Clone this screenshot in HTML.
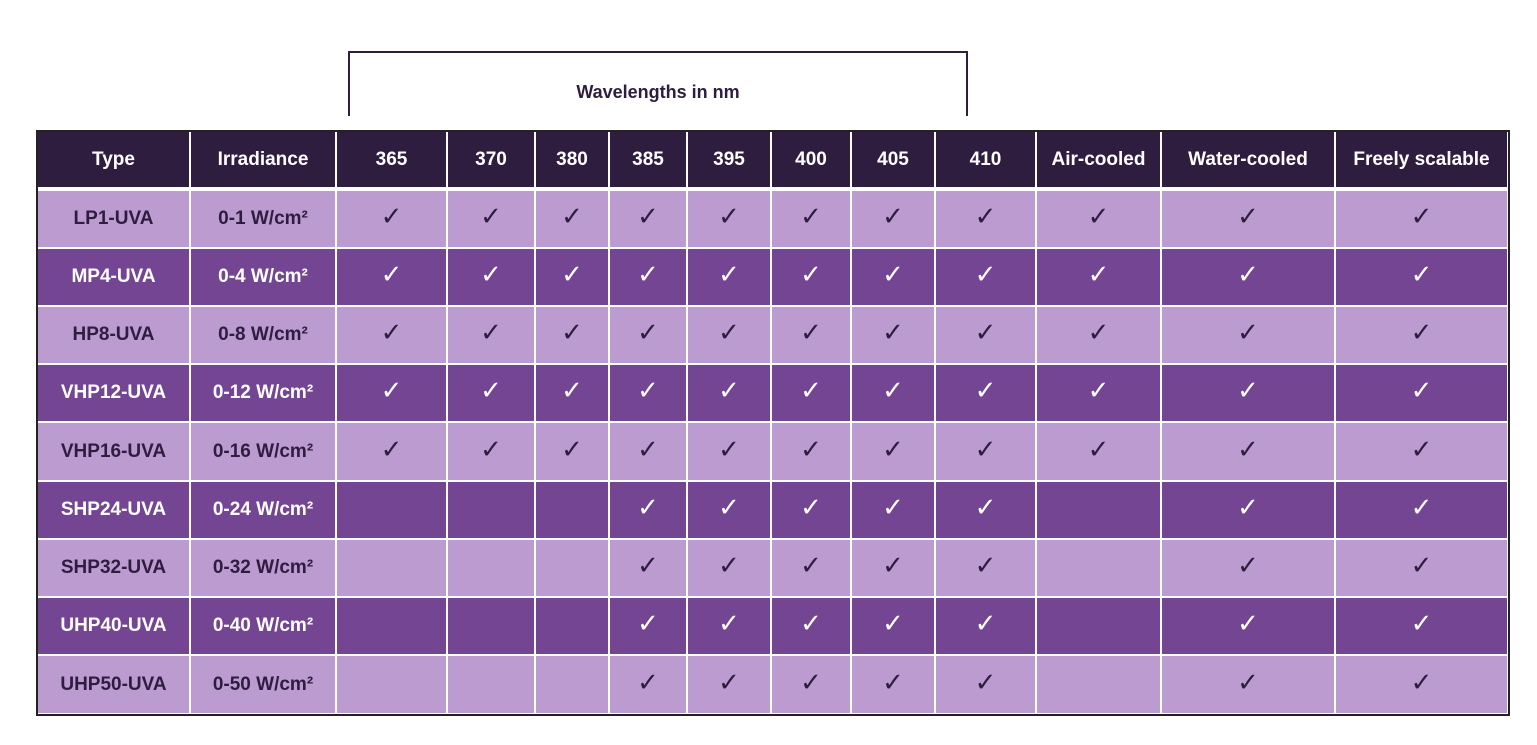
<!DOCTYPE html>
<html><head><meta charset="utf-8"><style>
body{margin:0;width:1537px;height:745px;background:#fff;position:relative;overflow:hidden;font-family:"Liberation Sans","DejaVu Sans",sans-serif;}
.c{position:absolute;display:flex;align-items:center;justify-content:center;font-weight:bold;font-size:19px;box-sizing:border-box;}
.ck{font-family:"DejaVu Sans",sans-serif;font-weight:normal;font-size:26px;}
</style></head><body>
<div style="position:absolute;left:348px;top:51px;width:620px;height:65px;border:2px solid #2f1d40;border-bottom:none;box-sizing:border-box"></div>
<div style="position:absolute;left:348px;top:82px;width:620px;text-align:center;font-weight:bold;font-size:18px;color:#2f1d40">Wavelengths in nm</div>
<div id="tbl" style="position:absolute;left:36px;top:130px;width:1474px;height:586px;background:#fff;border:2px solid #222;box-sizing:border-box"></div>
<script>
const headers=["Type","Irradiance","365","370","380","385","395","400","405","410","Air-cooled","Water-cooled","Freely scalable"];
const types=["LP1-UVA","MP4-UVA","HP8-UVA","VHP12-UVA","VHP16-UVA","SHP24-UVA","SHP32-UVA","UHP40-UVA","UHP50-UVA"];
const irr=["0-1 W/cm²","0-4 W/cm²","0-8 W/cm²","0-12 W/cm²","0-16 W/cm²","0-24 W/cm²","0-32 W/cm²","0-40 W/cm²","0-50 W/cm²"];
const full=[1,1,1,1,1,1,1,1,1,1,1];
const part=[0,0,0,1,1,1,1,1,0,1,1];
const checks=[full,full,full,full,full,part,part,part,part];
const colX=[38,190,336,447,535,609,687,771,851,935,1036,1161,1335,1508];
const rowY=[132,190,248,306,364,422,481,539,597,655,714];
const t=document.body;
function cell(x0,x1,y0,y1,bg,txt,color,name,cls){
  const d=document.createElement('div');
  
  
  d.className='c'+(cls?' '+cls:'');
  d.style.left=x0+'px';d.style.top=y0+'px';d.style.width=(x1-x0)+'px';d.style.height=(y1-y0)+'px';
  d.style.background=bg;d.style.color=color;d.textContent=txt;t.appendChild(d);
}
for(let c=0;c<headers.length;c++){
  cell(colX[c]+(c?1:0),colX[c+1]-1,rowY[0],rowY[1]-3,'#2f1d40',headers[c],'#fff','header-'+headers[c].toLowerCase().replace(/ /g,'-'));
}
for(let r=0;r<types.length;r++){
  const dark=r%2===1, bg=dark?'#744593':'#bb9bd0', fg=dark?'#fff':'#2f1d40';
  const y0=rowY[r+1]+(r===0?1:1), y1=rowY[r+2]-1;
  cell(colX[0],colX[1]-1,y0,y1,bg,types[r],fg,'type-'+types[r].toLowerCase());
  cell(colX[1]+1,colX[2]-1,y0,y1,bg,irr[r],fg,'irradiance-'+types[r].toLowerCase());
  for(let c=0;c<11;c++){
    cell(colX[c+2]+1,colX[c+3]-1,y0,y1-4,bg,checks[r][c]?'✓':'',fg,'check-'+types[r].toLowerCase()+'-'+headers[c+2].toLowerCase().replace(/ /g,'-'),'ck');
    // fill remaining bottom
    const f=document.createElement('div');
    
    
    f.style.cssText='position:absolute;left:'+(colX[c+2]+1)+'px;top:'+(y1-4)+'px;width:'+(colX[c+3]-colX[c+2]-2)+'px;height:4px;background:'+bg;
    t.appendChild(f);
  }
}
</script>
</body></html>
